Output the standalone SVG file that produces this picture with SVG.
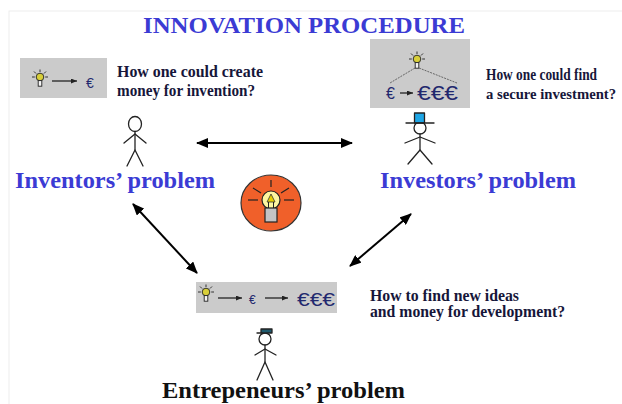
<svg xmlns="http://www.w3.org/2000/svg" width="622" height="404" viewBox="0 0 622 404">
<style>
.panel{fill:#cbcbcb}
.head{font-family:"Liberation Serif","Times New Roman",serif;font-weight:bold;font-size:24px;fill:#3b3bd4}
.q{font-family:"Liberation Serif","Times New Roman",serif;font-weight:bold;font-size:16px;fill:#16163a}
.q15{font-size:15px}
.euro{font-family:"Liberation Sans",Arial,sans-serif;fill:#22286e}
.stick{fill:none;stroke:#222;stroke-width:1.3;stroke-linecap:round;stroke-linejoin:round}
.conn{stroke:#000;stroke-width:2;fill:none}
.mini{stroke:#222;stroke-width:1.3;fill:none}
.ray{stroke:#222;stroke-width:1.2}
</style>
<defs>
  <marker id="ah" markerUnits="userSpaceOnUse" markerWidth="12" markerHeight="10" refX="11" refY="5" orient="auto-start-reverse">
    <path d="M0,0 L12,5 L0,10 z" fill="#000"/>
  </marker>
  <marker id="sm" markerUnits="userSpaceOnUse" markerWidth="6" markerHeight="5" refX="6" refY="2.5" orient="auto">
    <path d="M0,0 L6,2.5 L0,5 z" fill="#222"/>
  </marker>
  <!-- small clip-art light bulb, origin at the bulb neck -->
  <g id="bulb">
    <g stroke="#222" stroke-width="0.9">
      <line x1="0" y1="-10.5" x2="0" y2="-8"/>
      <line x1="-8" y1="-3" x2="-5.2" y2="-3"/>
      <line x1="5.2" y1="-3" x2="8" y2="-3"/>
      <line x1="-6" y1="-8.5" x2="-4" y2="-6.5"/>
      <line x1="6" y1="-8.5" x2="4" y2="-6.5"/>
    </g>
    <circle cx="0" cy="-3" r="3.8" fill="#d8cf3a" stroke="#222" stroke-width="0.9"/>
    <rect x="-1.8" y="0.6" width="3.6" height="5.6" fill="#f4f4f4" stroke="#222" stroke-width="0.9"/>
  </g>
</defs>

<rect width="622" height="404" fill="#fff"/>
<rect x="9" y="11" width="700" height="500" fill="none" stroke="#ededed" stroke-width="1"/>

<text class="head" x="304" y="33" text-anchor="middle" textLength="322" lengthAdjust="spacingAndGlyphs">INNOVATION PROCEDURE</text>

<!-- inventor -->
<g id="inventor">
  <rect class="panel" x="20" y="58" width="87" height="40"/>
  <use href="#bulb" x="40" y="80"/>
  <line class="mini" x1="52" y1="81" x2="77" y2="81" marker-end="url(#sm)"/>
  <text class="euro" x="86" y="88" font-size="14">€</text>
  <text class="q" x="117" y="77" textLength="146" lengthAdjust="spacingAndGlyphs">How one could create</text>
  <text class="q" x="117" y="96" textLength="138" lengthAdjust="spacingAndGlyphs">money for invention?</text>
  <g class="stick">
    <ellipse cx="135" cy="124" rx="6.5" ry="7.5" fill="#fff"/>
    <line x1="135" y1="131.5" x2="135" y2="150"/>
    <polyline points="124,143 135,134 146,143"/>
    <polyline points="127,166 135,150 143,166"/>
  </g>
  <text class="head" x="15" y="188" textLength="200" lengthAdjust="spacingAndGlyphs">Inventors’ problem</text>
</g>

<!-- investor -->
<g id="investor">
  <rect class="panel" x="370" y="39" width="100" height="69"/>
  <use href="#bulb" x="417" y="62"/>
  <g stroke="#666" stroke-width="1" stroke-dasharray="2,1">
    <line x1="415" y1="68" x2="390" y2="83"/>
    <line x1="419" y1="68" x2="457" y2="83"/>
  </g>
  <text class="euro" x="386" y="99" font-size="16">€</text>
  <line class="mini" x1="400" y1="93" x2="413" y2="93" marker-end="url(#sm)"/>
  <text class="euro" x="417" y="100" font-size="20" textLength="41" lengthAdjust="spacingAndGlyphs">€€€</text>
  <text class="q" x="486" y="80" textLength="111" lengthAdjust="spacingAndGlyphs">How one could find</text>
  <text class="q q15" x="486" y="99" textLength="130" lengthAdjust="spacingAndGlyphs">a secure investment?</text>
  <g class="stick">
    <circle cx="420" cy="128" r="6" fill="#fff"/>
    <line x1="420" y1="134" x2="420" y2="150"/>
    <polyline points="405,143 420,137 435,143"/>
    <polyline points="408,164 420,150 432,164"/>
    <rect x="414.5" y="113" width="10" height="10" fill="#1ea6e6"/>
    <line x1="406" y1="123" x2="434" y2="123"/>
  </g>
  <text class="head" x="380" y="188" textLength="196" lengthAdjust="spacingAndGlyphs">Investors’ problem</text>
</g>

<!-- entrepreneur -->
<g id="entrepreneur">
  <rect class="panel" x="196" y="282" width="141" height="31"/>
  <use href="#bulb" x="206" y="295"/>
  <line class="mini" x1="218" y1="298" x2="242" y2="298" marker-end="url(#sm)"/>
  <text class="euro" x="249" y="304" font-size="12">€</text>
  <line class="mini" x1="265" y1="298" x2="288" y2="298" marker-end="url(#sm)"/>
  <text class="euro" x="297" y="306" font-size="18" textLength="38" lengthAdjust="spacingAndGlyphs">€€€</text>
  <text class="q" x="370" y="301" textLength="149" lengthAdjust="spacingAndGlyphs">How to find new ideas</text>
  <text class="q" x="370" y="317" textLength="195" lengthAdjust="spacingAndGlyphs">and money for development?</text>
  <g class="stick">
    <circle cx="265" cy="339" r="6" fill="#fff"/>
    <line x1="265" y1="345" x2="265" y2="362"/>
    <polyline points="255,355 265,349 276,355"/>
    <polyline points="257,380 265,362 273,380"/>
    <rect x="261" y="329" width="11" height="4" fill="#1e5a6e"/>
    <line x1="257" y1="333" x2="262" y2="333"/>
  </g>
  <text class="head" x="162" y="398" style="fill:#111" textLength="243" lengthAdjust="spacingAndGlyphs">Entrepeneurs’ problem</text>
</g>

<!-- central idea lamp -->
<g id="idea">
  <ellipse cx="271" cy="203" rx="30" ry="28" fill="#f0602a" stroke="#333" stroke-width="1.2"/>
  <g class="ray">
    <line x1="271" y1="180" x2="271" y2="187"/>
    <line x1="248" y1="200" x2="258" y2="200"/>
    <line x1="284" y1="200" x2="294" y2="200"/>
    <line x1="253" y1="188" x2="261" y2="193"/>
    <line x1="281" y1="193" x2="289" y2="188"/>
  </g>
  <circle cx="271" cy="200" r="9" fill="#fdf6a0" stroke="#222" stroke-width="1.2"/>
  <polygon points="271,194 267,202 275,202" fill="#e8d000" stroke="#333" stroke-width="0.8"/>
  <line x1="268.5" y1="202" x2="268.5" y2="209" stroke="#222" stroke-width="1"/>
  <line x1="273.5" y1="202" x2="273.5" y2="209" stroke="#222" stroke-width="1"/>
  <rect x="265" y="208" width="12" height="14" fill="#c4c4c4" stroke="#222" stroke-width="1.2"/>
</g>

<!-- connectors -->
<g id="connectors">
  <line class="conn" x1="197" y1="143" x2="352" y2="143" marker-start="url(#ah)" marker-end="url(#ah)"/>
  <line class="conn" x1="133" y1="204" x2="197" y2="273" marker-start="url(#ah)" marker-end="url(#ah)"/>
  <line class="conn" x1="411" y1="214" x2="350" y2="266" marker-start="url(#ah)" marker-end="url(#ah)"/>
</g>
</svg>
